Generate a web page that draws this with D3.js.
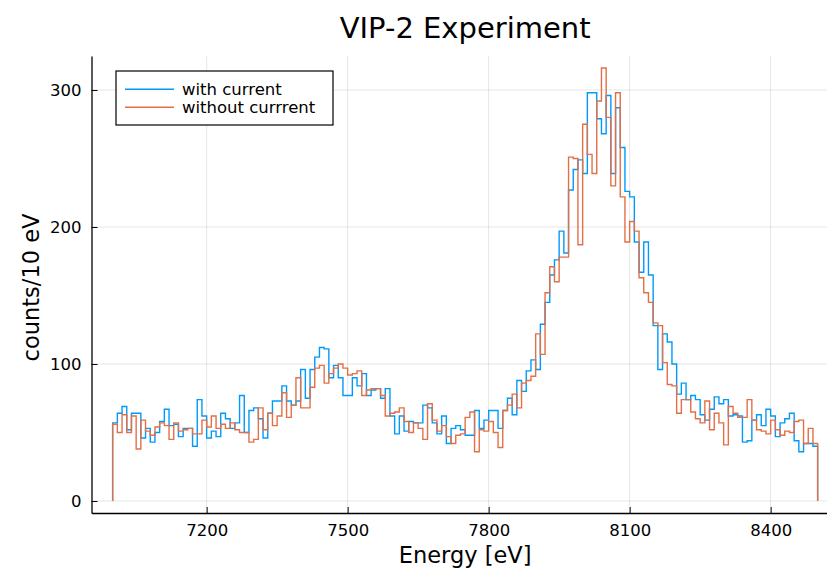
<!DOCTYPE html>
<html>
<head>
<meta charset="utf-8">
<title>VIP-2 Experiment</title>
<script src="https://cdn.jsdelivr.net/npm/d3@7"></script>
<style>
  body { margin: 0; background: #fff; }
  svg text { font-family: "DejaVu Sans", sans-serif; fill: #000; }
</style>
</head>
<body>
<svg id="svg"></svg>
<script>
// histogram: 10 eV bins starting at 7000 eV
var binStart = 7000, binWidth = 10;

var withCurrent = [
  57, 64, 69, 52, 64, 64, 46, 53, 43, 50,
  58, 67, 55, 56, 47, 53, 53, 40, 74, 62,
  46, 51, 47, 64, 60, 53, 57, 77, 50, 66,
  68, 60, 46, 64, 73, 73, 84, 73, 70, 73,
  96, 75, 96, 105, 112, 111, 90, 99, 90, 77,
  77, 90, 84, 93, 77, 81, 82, 75, 82, 62,
  49, 62, 51, 58, 57, 57, 70, 68, 57, 49,
  62, 42, 53, 55, 52, 48, 48, 66, 53, 59,
  66, 66, 53, 66, 75, 63, 88, 80, 95, 103,
  96, 129, 145, 165, 176, 197, 181, 227, 242, 249,
  239, 298, 298, 279, 268, 296, 239, 287, 258, 226,
  222, 189, 167, 189, 165, 128, 96, 122, 116, 100,
  78, 86, 74, 77, 74, 63, 59, 67, 76, 71,
  74, 62, 63, 62, 43, 44, 59, 63, 55, 67,
  62, 47, 57, 60, 64, 44, 36, 42, 42, 40
];

var withoutCurrent = [
  56, 50, 63, 50, 62, 38, 59, 51, 48, 54,
  57, 55, 45, 57, 51, 52, 53, 49, 49, 59,
  54, 62, 53, 56, 53, 57, 52, 50, 50, 43,
  45, 68, 52, 64, 55, 62, 79, 61, 70, 90,
  68, 68, 83, 97, 99, 86, 93, 97, 100, 97,
  92, 93, 95, 77, 81, 82, 82, 77, 62, 64,
  65, 68, 58, 50, 57, 53, 45, 71, 59, 51,
  55, 47, 42, 48, 49, 61, 65, 36, 52, 51,
  58, 50, 39, 66, 70, 78, 68, 86, 88, 91,
  122, 107, 152, 171, 160, 178, 178, 251, 250, 187,
  275, 253, 239, 292, 316, 280, 230, 298, 222, 189,
  204, 197, 163, 152, 145, 130, 128, 101, 85, 84,
  64, 74, 74, 65, 60, 57, 73, 52, 64, 57,
  41, 69, 64, 61, 61, 74, 59, 52, 51, 49,
  59, 52, 48, 51, 50, 58, 59, 42, 53, 42
];

var xTicks = [7200, 7500, 7800, 8100, 8400];
var yTicks = [0, 100, 200, 300];
var seriesNames = ["with current", "without currrent"];
var seriesColors = ["#009AFA", "#E36F47"];

var width = 827, height = 570;
var plot = {left: 91.5, right: 838.8, top: 56, bottom: 513};

var svg = d3.select("#svg").attr("width", width).attr("height", height);

var x = d3.scaleLinear().domain([6955, 8545]).range([plot.left, plot.right]);
var y = d3.scaleLinear().domain([-8.76, 324.8]).range([plot.bottom, plot.top]);

// grid
svg.append("g").selectAll("line").data(xTicks).enter().append("line")
  .attr("x1", d => x(d)).attr("x2", d => x(d))
  .attr("y1", plot.top).attr("y2", plot.bottom)
  .attr("stroke", "#000").attr("stroke-opacity", 0.1).attr("stroke-width", 1);
svg.append("g").selectAll("line").data(yTicks).enter().append("line")
  .attr("x1", plot.left).attr("x2", plot.right)
  .attr("y1", d => y(d)).attr("y2", d => y(d))
  .attr("stroke", "#000").attr("stroke-opacity", 0.1).attr("stroke-width", 1);

// step outline of a histogram, from 0 up and back to 0
function stepPath(vals) {
  var pts = [[binStart, 0]];
  vals.forEach(function(v, i) {
    pts.push([binStart + i * binWidth, v]);
    pts.push([binStart + (i + 1) * binWidth, v]);
  });
  pts.push([binStart + vals.length * binWidth, 0]);
  return d3.line().x(d => x(d[0])).y(d => y(d[1]))(pts);
}

[withCurrent, withoutCurrent].forEach(function(s, k) {
  svg.append("path")
    .attr("d", stepPath(s))
    .attr("fill", "none")
    .attr("stroke", seriesColors[k])
    .attr("stroke-width", 1.4);
});

// axes
var axisX = d3.axisBottom(x).tickValues(xTicks).tickFormat(d3.format("d"))
  .tickSizeInner(-6).tickSizeOuter(0).tickPadding(11);
var gx = svg.append("g").attr("transform", "translate(0," + plot.bottom + ")").call(axisX);
gx.select(".domain").attr("stroke-width", 1.3);
gx.selectAll("text").style("font-size", "16.5px");

var axisY = d3.axisLeft(y).tickValues(yTicks).tickFormat(d3.format("d"))
  .tickSizeInner(-6).tickSizeOuter(0).tickPadding(10);
var gy = svg.append("g").attr("transform", "translate(" + plot.left + ",0)").call(axisY);
gy.select(".domain").attr("stroke-width", 1.3);
gy.selectAll("text").style("font-size", "16.5px");
[gx, gy].forEach(g => g.attr("font-family", null));

// titles
svg.append("text")
  .attr("x", (plot.left + plot.right) / 2).attr("y", 38)
  .attr("text-anchor", "middle").style("font-size", "29px")
  .text("VIP-2 Experiment");

svg.append("text")
  .attr("x", (plot.left + plot.right) / 2).attr("y", 563)
  .attr("text-anchor", "middle").style("font-size", "22.5px")
  .text("Energy [eV]");

svg.append("text")
  .attr("transform", "translate(39," + ((plot.top + plot.bottom) / 2 + 3) + ") rotate(-90)")
  .attr("text-anchor", "middle").style("font-size", "22.5px")
  .text("counts/10 eV");

// legend
var leg = svg.append("g").attr("transform", "translate(116,71)");
leg.append("rect").attr("width", 217).attr("height", 54)
  .attr("fill", "#fff").attr("stroke", "#000").attr("stroke-width", 1.2);
seriesNames.forEach(function(name, k) {
  var ly = 18.3 + k * 18;
  leg.append("line").attr("x1", 9).attr("x2", 58).attr("y1", ly).attr("y2", ly)
    .attr("stroke", seriesColors[k]).attr("stroke-width", 1.4);
  leg.append("text").attr("x", 66).attr("y", ly + 5.5)
    .style("font-size", "16.5px").text(name);
});
</script>
</body>
</html>
